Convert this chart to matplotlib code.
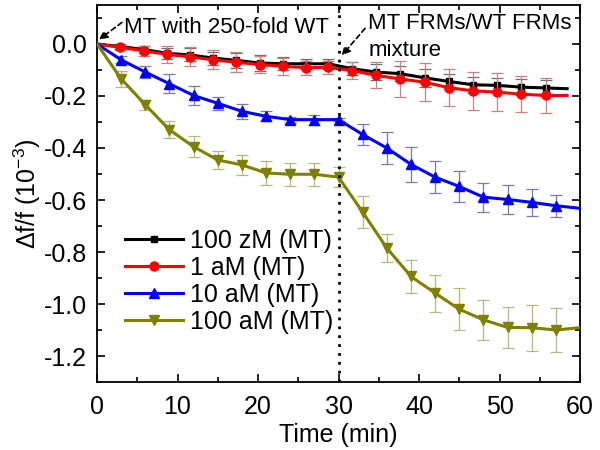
import matplotlib
matplotlib.use('Agg')
import matplotlib.pyplot as plt
from matplotlib.ticker import FixedLocator, MultipleLocator

plt.rcParams['font.family'] = ['Liberation Sans', 'DejaVu Sans']
plt.rcParams['mathtext.fontset'] = 'custom'
plt.rcParams['mathtext.rm'] = 'Liberation Sans'
plt.rcParams['mathtext.it'] = 'Liberation Sans:italic'
plt.rcParams['axes.unicode_minus'] = False

# ---- data ----
x_low = [0, 2.9, 5.8, 8.7, 11.5, 14.4, 17.3, 20.2, 23.1, 26.0, 28.7,
         31.7, 34.7, 37.6, 40.7, 43.7, 46.7, 49.7, 52.7, 55.8, 58.4]
y_100zM = [0, -0.010, -0.021, -0.036, -0.042, -0.054, -0.063, -0.073, -0.076, -0.076, -0.076,
           -0.095, -0.108, -0.114, -0.130, -0.144, -0.157, -0.159, -0.166, -0.169, -0.172]
e_100zM = [0, 0.010, 0.015, 0.020, 0.025, 0.025, 0.030, 0.030, 0.025, 0.020, 0.020,
           0.025, 0.030, 0.030, 0.035, 0.030, 0.030, 0.030, 0.030, 0.030, 0]
y_1aM = [0, -0.013, -0.026, -0.040, -0.049, -0.061, -0.070, -0.079, -0.086, -0.091, -0.090,
         -0.102, -0.121, -0.134, -0.147, -0.168, -0.180, -0.185, -0.193, -0.198, -0.198]
e_1aM = [0, 0.010, 0.019, 0.032, 0.037, 0.036, 0.039, 0.034, 0.034, 0.027, 0.024,
         0.034, 0.050, 0.069, 0.074, 0.072, 0.072, 0.073, 0.069, 0.068, 0]

x_high = [0, 3, 6, 9, 12, 15, 18, 21, 24, 27, 30,
          33, 36, 39, 42, 45, 48, 51, 54, 57, 60]
y_10aM = [0, -0.061, -0.108, -0.153, -0.198, -0.228, -0.259, -0.278, -0.291, -0.291, -0.291,
          -0.348, -0.400, -0.463, -0.512, -0.548, -0.589, -0.598, -0.609, -0.622, -0.632]
e_10aM = [0, 0.014, 0.024, 0.037, 0.037, 0.025, 0.028, 0.019, 0.012, 0.019, 0.005,
          0.040, 0.060, 0.068, 0.061, 0.059, 0.056, 0.054, 0.052, 0.043, 0]
y_100aM = [0, -0.134, -0.234, -0.330, -0.395, -0.446, -0.465, -0.496, -0.501, -0.501, -0.512,
           -0.647, -0.785, -0.894, -0.958, -1.020, -1.061, -1.090, -1.091, -1.100, -1.091]
e_100aM = [0, 0.031, 0.019, 0.033, 0.040, 0.035, 0.038, 0.046, 0.045, 0.045, 0.038,
           0.062, 0.053, 0.065, 0.071, 0.081, 0.076, 0.080, 0.089, 0.084, 0]

labels = ['100 zM (MT)', '1 aM (MT)', '10 aM (MT)', '100 aM (MT)']
xticks = [0, 10, 20, 30, 40, 50, 60]
yticks = [0.0, -0.2, -0.4, -0.6, -0.8, -1.0, -1.2]
ytick_labels = ['0.0', '-0.2', '-0.4', '-0.6', '-0.8', '-1.0', '-1.2']

series = [
    (x_low, y_100zM, e_100zM, labels[0], 'black', '#707070', 's', 5),
    (x_low, y_1aM, e_1aM, labels[1], '#ff0000', '#c88080', 'o', 6.5),
    (x_high, y_10aM, e_10aM, labels[2], '#0000ff', '#7878b8', '^', 6.5),
    (x_high, y_100aM, e_100aM, labels[3], '#808000', '#b8b878', 'v', 6.5),
]

fig = plt.figure(figsize=(6, 4.5), dpi=100)
ax = fig.add_axes([0.1617, 0.1511, 0.805, 0.8378])

for i, (xs, ys, es, lab, c, ec, m, ms) in enumerate(series):
    ax.errorbar(xs[1:-1], ys[1:-1], yerr=es[1:-1], fmt='none', ecolor=ec,
                elinewidth=0.9, capsize=4, capthick=0.9, zorder=2 + i)
    ax.plot(xs, ys, color=c, lw=2.2, marker=m, markersize=ms,
            markevery=slice(1, -1), label=lab, zorder=3 + i)

ax.axvline(30, color='black', linestyle=(0, (1, 2.2)), lw=2.0, zorder=10)

ax.set_xlim(0, 60)
ax.set_ylim(-1.3, 0.15)
ax.xaxis.set_major_locator(FixedLocator(xticks))
ax.set_xticklabels([str(v) for v in xticks])
ax.xaxis.set_minor_locator(MultipleLocator(5))
ax.yaxis.set_major_locator(FixedLocator(yticks))
ax.set_yticklabels(ytick_labels)
ax.yaxis.set_minor_locator(MultipleLocator(0.1))
ax.tick_params(which='both', direction='in', top=True, right=True,
               labelsize=18, width=1.2)
ax.tick_params(which='major', length=6)
ax.tick_params(axis='x', which='major', pad=9)
ax.tick_params(axis='y', which='major', pad=7)
ax.tick_params(which='minor', length=3.5)
for s in ax.spines.values():
    s.set_linewidth(1.3)

ax.set_xlabel('Time (min)', fontsize=18, labelpad=3)
ax.set_ylabel('Δf/f (10$^{-3}$)', fontsize=18, labelpad=1)

arrow_kw = dict(arrowstyle='-|>', linestyle=(0, (3, 2)), color='black', lw=1.2,
                mutation_scale=12, shrinkA=0, shrinkB=0)
ax.annotate('', xy=(0.25, 0.017), xytext=(3.1, 0.083), arrowprops=arrow_kw,
            annotation_clip=False)
ax.text(3.3, 0.063, 'MT with 250-fold WT', fontsize=16, va='center', ha='left')
ax.annotate('', xy=(30.4, -0.044), xytext=(33.3, 0.060), arrowprops=arrow_kw,
            annotation_clip=False)
ax.text(33.7, 0.079, 'MT FRMs/WT FRMs', fontsize=16, va='center', ha='left')
ax.text(33.7, -0.025, 'mixture', fontsize=16, va='center', ha='left')

ax.legend(loc='center left', bbox_to_anchor=(125 / 600, 1 - 281.5 / 450),
          bbox_transform=fig.transFigure, frameon=False, fontsize=18,
          handlelength=2.3, handletextpad=0.3, labelspacing=0.12,
          borderpad=0, borderaxespad=0)

fig.savefig('out.png', dpi=100)
